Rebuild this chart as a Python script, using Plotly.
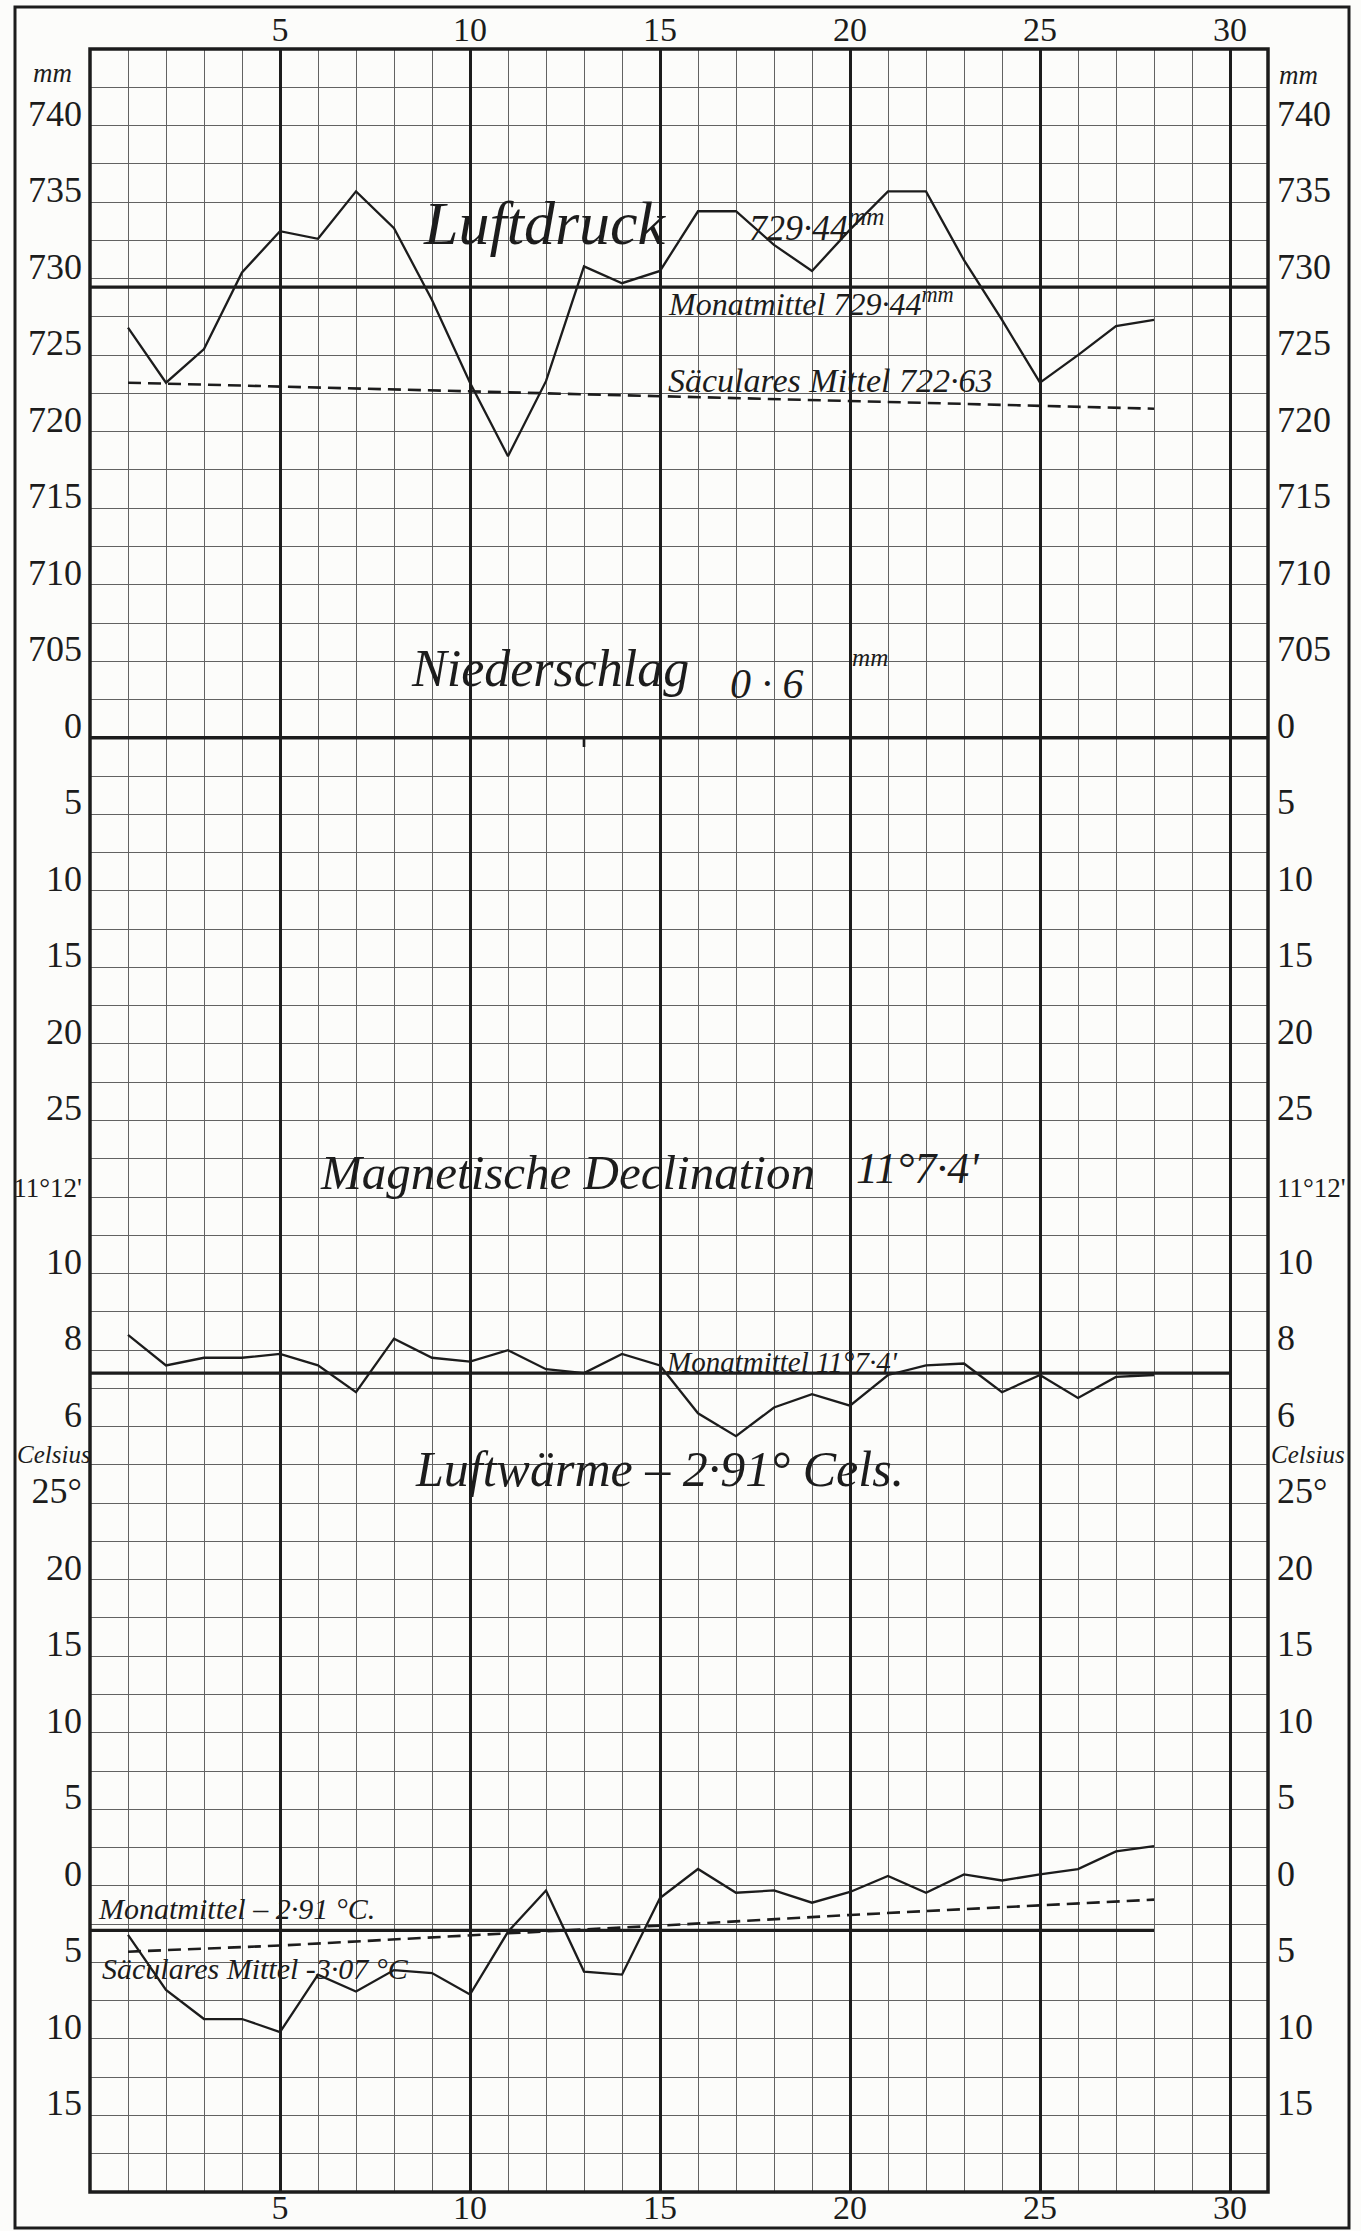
import plotly.graph_objects as go

# ---------------------------------------------------------------- data
days = list(range(1, 29))

pressure_mm = [726.8, 723.2, 725.4, 730.4, 733.1, 732.6, 735.7, 733.3, 728.6, 723.2,
               718.4, 723.3, 730.8, 729.7, 730.5, 734.4, 734.4, 732.2, 730.5, 733.2,
               735.7, 735.7, 731.2, 727.3, 723.2, 725.0, 726.9, 727.3]
pressure_month_mean = 729.44
pressure_mean_days = [0, 31]
pressure_secular_days = [1, 15, 28]
pressure_secular = [723.2, 722.3, 721.5]

precip_days = [13]
precip_mm = [0.6]

# magnetic declination, minutes above 11 degrees
declination_min = [8.4, 7.6, 7.8, 7.8, 7.9, 7.6, 6.9, 8.3, 7.8, 7.7,
                   8.0, 7.5, 7.4, 7.9, 7.6, 6.35, 5.75, 6.5, 6.85, 6.55,
                   7.35, 7.6, 7.65, 6.9, 7.35, 6.75, 7.3, 7.35]
declination_month_mean = 7.4
declination_mean_days = [0, 30]

temperature_c = [-3.2, -6.8, -8.7, -8.7, -9.55, -5.8, -6.9, -5.5, -5.7, -7.1,
                 -3.0, -0.3, -5.6, -5.8, -0.8, 1.1, -0.45, -0.3, -1.1, -0.4,
                 0.65, -0.45, 0.75, 0.35, 0.75, 1.1, 2.25, 2.6]
temperature_month_mean = -2.91
temperature_mean_days = [0, 28]
temperature_secular_days = [1, 5, 11, 15, 20, 28]
temperature_secular = [-4.3, -3.9, -3.1, -2.6, -1.9, -0.9]

day_ticks = [5, 10, 15, 20, 25, 30]
pressure_ticks = [740, 735, 730, 725, 720, 715, 710, 705]
precip_ticks = [0, 5, 10, 15, 20, 25]
declination_ticks = [12, 10, 8, 6]
declination_tick_text = ["11°12'", "10", "8", "6"]
temperature_ticks = [25, 20, 15, 10, 5, 0, -5, -10, -15]
temperature_tick_text = ["25°", "20", "15", "10", "5", "0", "5", "10", "15"]

# ---------------------------------------------------------------- sheet geometry
W, H = 1361, 2231
ML, MR, MT, MB = 90, 93, 49, 39
PW, PH = W - ML - MR, H - MT - MB
N_ROWS, N_DAYS = 56, 31

P_TOP, P_STEP = 745.0, 2.5          # pressure: value at top row, per row
R_ROW0, R_STEP = 18, 2.5            # precipitation: zero row, per row (downwards)
D_ROW0, D_STEP = 42, 1.0            # declination: row of 11°0', per row
T_ROW0, T_STEP = 48, 2.5            # temperature: zero row, per row

p_range = [P_TOP - N_ROWS * P_STEP, P_TOP]
r_range = [(N_ROWS - R_ROW0) * R_STEP, -R_ROW0 * R_STEP]
d_range = [(D_ROW0 - N_ROWS) * D_STEP, D_ROW0 * D_STEP]
t_range = [-(N_ROWS - T_ROW0) * T_STEP, T_ROW0 * T_STEP]

LABEL_LIFT = 0.33  # labels sit just above their line


def row_p(v): return (P_TOP - v) / P_STEP
def row_r(v): return R_ROW0 + v / R_STEP
def row_d(v): return D_ROW0 - v / D_STEP
def row_t(v): return T_ROW0 - v / T_STEP


def small(t):
    return t if len(t) <= 3 else "<span style='font-size:27px'>%s</span>" % t


lab_rows, lab_text = [], []
for v in pressure_ticks:
    lab_rows.append(row_p(v) - LABEL_LIFT); lab_text.append(str(v))
for v in precip_ticks:
    lab_rows.append(row_r(v) - LABEL_LIFT); lab_text.append(str(v))
for v, t in zip(declination_ticks, declination_tick_text):
    lab_rows.append(row_d(v) - LABEL_LIFT); lab_text.append(small(t))
for v, t in zip(temperature_ticks, temperature_tick_text):
    lab_rows.append(row_t(v) - LABEL_LIFT); lab_text.append(t)

INK = "#1c1c1c"
GRID = "#626262"
PAPER = "#fcfcfa"
CLEAR = "rgba(0,0,0,0)"
NUM_FONT = dict(family="Liberation Serif", size=36, color=INK)
DAY_FONT = dict(family="Liberation Serif", size=34, color=INK)
SCRIPT = "Liberation Serif"

fig = go.Figure()

# empty helper traces so that every grid / label axis gets its subplot drawn
for xa, ya in (("x", "y"), ("x2", "y"), ("x3", "y"), ("x", "y6"), ("x", "y7")):
    fig.add_trace(go.Scatter(x=[], y=[], xaxis=xa, yaxis=ya, mode="lines",
                             hoverinfo="skip", showlegend=False))

# pressure
fig.add_trace(go.Scatter(x=days, y=pressure_mm, yaxis="y2", mode="lines",
                         line=dict(color=INK, width=2.3), name="Luftdruck"))
fig.add_trace(go.Scatter(x=pressure_mean_days, y=[pressure_month_mean] * 2, yaxis="y2",
                         mode="lines", line=dict(color=INK, width=3.2), name="Monatmittel"))
fig.add_trace(go.Scatter(x=pressure_secular_days, y=pressure_secular, yaxis="y2", mode="lines",
                         line=dict(color=INK, width=2.6, dash="13px,7px"), name="Säculares Mittel"))
# precipitation
fig.add_trace(go.Bar(x=precip_days, y=precip_mm, yaxis="y3", width=0.07,
                     marker=dict(color=INK, line=dict(width=0)), name="Niederschlag"))
# declination
fig.add_trace(go.Scatter(x=days, y=declination_min, yaxis="y4", mode="lines",
                         line=dict(color=INK, width=2.3), name="Declination"))
fig.add_trace(go.Scatter(x=declination_mean_days, y=[declination_month_mean] * 2, yaxis="y4",
                         mode="lines", line=dict(color=INK, width=3.2), name="Monatmittel"))
# temperature
fig.add_trace(go.Scatter(x=days, y=temperature_c, yaxis="y5", mode="lines",
                         line=dict(color=INK, width=2.3), name="Luftwärme"))
fig.add_trace(go.Scatter(x=temperature_mean_days, y=[temperature_month_mean] * 2, yaxis="y5",
                         mode="lines", line=dict(color=INK, width=3.2), name="Monatmittel"))
fig.add_trace(go.Scatter(x=temperature_secular_days, y=temperature_secular, yaxis="y5",
                         mode="lines", line=dict(color=INK, width=2.6, dash="13px,7px"),
                         name="Säculares Mittel"))

hidden = dict(overlaying="y", anchor="x", visible=False, fixedrange=True)


def px_to_paper_x(px): return (px - ML) / PW
def px_to_paper_y(py): return (H - MB - py) / PH


def ann(text, x, y, size, xanchor="left", xref="x", yref="y", italic=True):
    return dict(text=("<i>%s</i>" % text) if italic else text, x=x, y=y, xref=xref, yref=yref,
                xanchor=xanchor, yanchor="middle", showarrow=False,
                font=dict(family=SCRIPT, size=size, color=INK))


annotations = [
    ann("Luftdruck", 8.7, 4.55, 62),
    ann("729·44<sup>mm</sup>", 17.3, 4.6, 36),
    ann("Monatmittel 729·44<sup>mm</sup>", 15.15, 6.6, 32),
    ann("Säculares Mittel 722·63", 15.15, 8.65, 34),
    ann("Niederschlag", 8.4, 16.2, 52),
    ann("0 · 6", 16.8, 16.6, 42),
    ann("<sup>mm</sup>", 20.0, 15.9, 36),
    ann("Magnetische Declination", 6.0, 29.35, 49),
    ann("11°7·4'", 20.1, 29.25, 44),
    ann("Monatmittel 11°7·4'", 15.1, 34.3, 29),
    ann("Luftwärme – 2·91° Cels.", 8.5, 37.1, 50),
    ann("Monatmittel – 2·91 °C.", 0.15, 48.6, 30),
    ann("Säculares Mittel -3·07 °C", 0.25, 50.15, 30),
    ann("mm", px_to_paper_x(52), 0.62, 27, xanchor="center", xref="paper"),
    ann("mm", px_to_paper_x(1298), 0.68, 27, xanchor="center", xref="paper"),
    ann("Celsius", px_to_paper_x(54), 36.72, 25, xanchor="center", xref="paper"),
    ann("Celsius", px_to_paper_x(1308), 36.72, 25, xanchor="center", xref="paper"),
]

shapes = [
    # outer frame of the sheet
    dict(type="rect", xref="paper", yref="paper",
         x0=px_to_paper_x(15), x1=px_to_paper_x(1349),
         y0=px_to_paper_y(2228), y1=px_to_paper_y(7),
         line=dict(color=INK, width=3)),
    # plot frame
    dict(type="rect", xref="paper", yref="paper", x0=0, x1=1, y0=0, y1=1,
         line=dict(color=INK, width=3.5)),
    # zero line of precipitation
    dict(type="line", xref="paper", yref="y", x0=0, x1=1, y0=R_ROW0, y1=R_ROW0,
         line=dict(color=INK, width=3.5)),
]

fig.update_layout(
    template="none",
    width=W, height=H,
    margin=dict(l=ML, r=MR, t=MT, b=MB, pad=0),
    paper_bgcolor=PAPER, plot_bgcolor=CLEAR,
    showlegend=False,
    xaxis=dict(range=[0, N_DAYS], tickmode="array", tickvals=list(range(N_DAYS + 1)),
               showticklabels=False, showgrid=True, gridcolor=GRID, gridwidth=1,
               zeroline=False, ticks="", showline=False, automargin=False, fixedrange=True),
    xaxis2=dict(overlaying="x", anchor="y", side="bottom", range=[0, N_DAYS],
                tickmode="array", tickvals=day_ticks, ticktext=[str(d) for d in day_ticks],
                showgrid=True, gridcolor=INK, gridwidth=2.6, zeroline=False, ticks="",
                showline=False, tickfont=DAY_FONT, automargin=False, ticklabelstandoff=-8,
                fixedrange=True),
    xaxis3=dict(overlaying="x", anchor="y", side="top", range=[0, N_DAYS],
                tickmode="array", tickvals=day_ticks, ticktext=[str(d) for d in day_ticks],
                showgrid=False, zeroline=False, ticks="", showline=False, tickfont=DAY_FONT,
                automargin=False, ticklabelstandoff=0, fixedrange=True),
    yaxis=dict(range=[N_ROWS, 0], tickmode="array", tickvals=list(range(N_ROWS + 1)),
               showticklabels=False, showgrid=True, gridcolor=GRID, gridwidth=1,
               zeroline=False, ticks="", showline=False, automargin=False, fixedrange=True),
    yaxis2=dict(range=p_range, **hidden),
    yaxis3=dict(range=r_range, **hidden),
    yaxis4=dict(range=d_range, **hidden),
    yaxis5=dict(range=t_range, **hidden),
    yaxis6=dict(overlaying="y", anchor="x", side="left", range=[N_ROWS, 0],
                tickmode="array", tickvals=lab_rows, ticktext=lab_text,
                showgrid=False, zeroline=False, ticks="", showline=False,
                tickfont=NUM_FONT, automargin=False, ticklabelstandoff=7, fixedrange=True),
    yaxis7=dict(overlaying="y", anchor="x", side="right", range=[N_ROWS, 0],
                tickmode="array", tickvals=lab_rows, ticktext=lab_text,
                showgrid=False, zeroline=False, ticks="", showline=False,
                tickfont=NUM_FONT, automargin=False, ticklabelstandoff=8, fixedrange=True),
    annotations=annotations,
    shapes=shapes,
)

fig.write_html("out.html", config={"displayModeBar": False},
               post_script="document.body.style.margin='0';document.body.style.padding='0';")
